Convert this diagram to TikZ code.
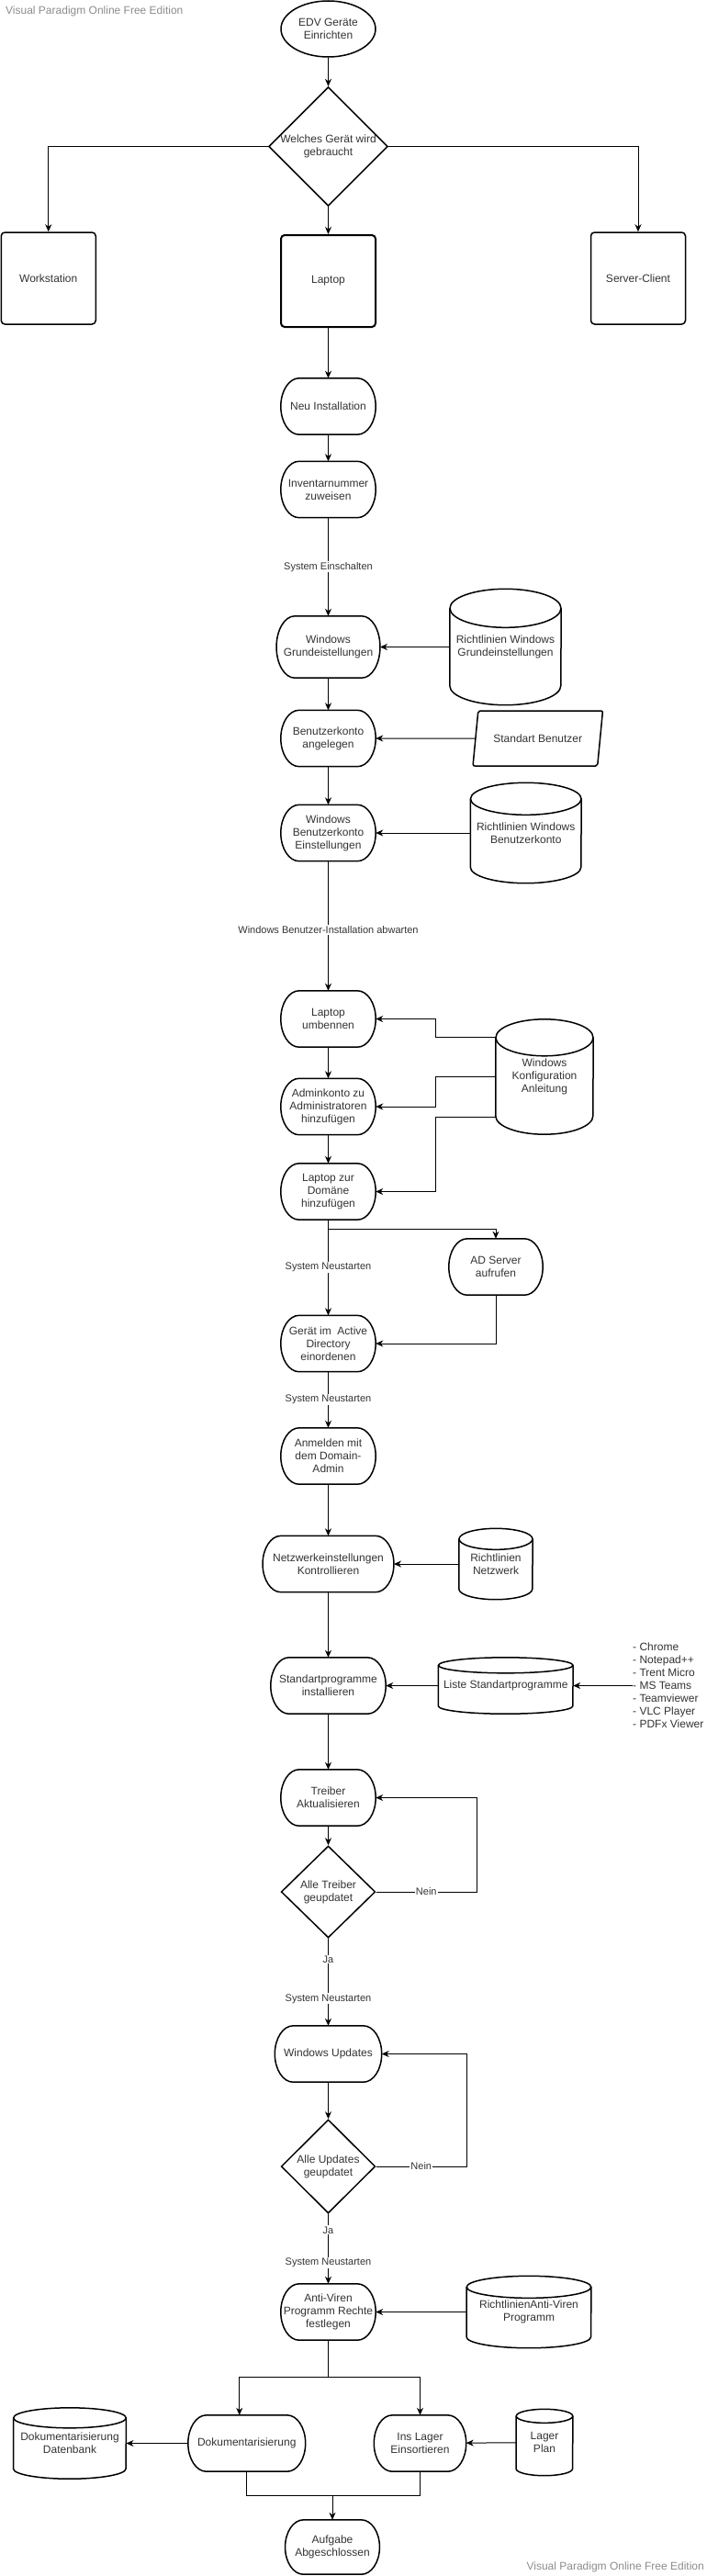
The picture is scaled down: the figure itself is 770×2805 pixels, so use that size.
\documentclass[tikz,border=0pt]{standalone}
\usepackage{fontspec}
\setmainfont{Liberation Sans}
\usetikzlibrary{shapes.geometric,arrows.meta,calc}

\definecolor{schrift}{HTML}{333333}
\definecolor{wasserzeichen}{HTML}{8C8C8C}

% 数据库圆柱: 名称, 位置, 宽, 高, 顶盖半高, 文字
\newcommand{\zylinder}[6]{%
  \node[dbtext, minimum width=#3pt, minimum height=#4pt] (#1) at #2 {#6};
  \draw[formlinie] ([yshift=-#5pt]#1.north west) -- ([yshift=#5pt]#1.south west)
    arc[start angle=180, end angle=360, x radius=#3pt/2, y radius=#5pt]
    -- ([yshift=-#5pt]#1.north east);
  \draw[formlinie] ([yshift=-#5pt]#1.north) ellipse[x radius=#3pt/2, y radius=#5pt];
}

\begin{document}
\begin{tikzpicture}[x=1pt, y=-1pt,
    font=\fontsize{12}{14}\selectfont, text=schrift,
    >={Stealth[length=8pt, width=7pt, inset=2.5pt]},
    formlinie/.style={draw=black, line width=1.5pt},
    anfang/.style={ellipse, formlinie, minimum width=103pt, minimum height=61pt, inner sep=0pt, align=center},
    ablauf/.style={rectangle, inner sep=0pt, align=center, minimum width=#1pt, minimum height=61pt,
      append after command={\pgfextra{\pgfinterruptpath
        \draw[formlinie] let \p1=(\tikzlastnode.north), \p2=(\tikzlastnode.south), \n1={(\y1-\y2)/2} in
          ([xshift=20pt]\tikzlastnode.north west) -- ([xshift=-20pt]\tikzlastnode.north east)
          arc[start angle=90, end angle=-90, x radius=20pt, y radius={\n1*1pt}]
          -- ([xshift=20pt]\tikzlastnode.south west)
          arc[start angle=270, end angle=90, x radius=20pt, y radius={\n1*1pt}] -- cycle;
        \endpgfinterruptpath}}},
    ablauf/.default=103,
    geraetbox/.style={rectangle, rounded corners=4pt, formlinie, minimum width=103pt, minimum height=100pt, align=center},
    frage/.style={diamond, formlinie, inner sep=0pt, align=center},
    eingabe/.style={trapezium, trapezium left angle=64, trapezium right angle=116, trapezium stretches=true,
      formlinie, rounded corners=2pt, minimum width=141.5pt, minimum height=60pt, inner sep=0pt},
    dbtext/.style={rectangle, inner sep=0pt, align=center},
    programme/.style={anchor=west, align=left, inner sep=0pt},
    pfeil/.style={->, line width=1pt},
    linie/.style={line width=1pt},
    kante/.style={fill=white, inner sep=1pt, font=\fontsize{11}{13}\selectfont},
    wz/.style={text=wasserzeichen, inner sep=0pt}]
    \useasboundingbox (0,0) rectangle (770,2805);

    % 水印
    \node[wz, anchor=west] (wzoben) at (6,12) {Visual Paradigm Online Free Edition};
    \node[wz, anchor=east] (wzunten) at (767,2795) {Visual Paradigm Online Free Edition};

    % 开始和选择设备
    \node[anfang] (edv) at (357.5,31.5) {EDV Geräte\\Einrichten};
    \node[frage, minimum width=128pt, minimum height=127pt] (welches) at (357.5,159.5) {Welches Gerät wird\\gebraucht};
    \node[geraetbox] (workstation) at (52.75,303) {Workstation};
    \node[geraetbox, line width=2pt] (laptop) at (357.5,306) {Laptop};
    \node[geraetbox] (server) at (695,303) {Server-Client};

    \draw[pfeil] (edv) -- (welches);
    \draw[pfeil] (welches.west) -| (workstation.north);
    \draw[pfeil] (welches.east) -| (server.north);
    \draw[pfeil] (welches) -- (laptop);

    % Windows 安装
    \node[ablauf] (neu) at (357.5,442.5) {Neu Installation};
    \node[ablauf] (inventar) at (357.5,533) {Inventarnummer\\zuweisen};
    \node[ablauf=112.5, minimum height=67pt] (grund) at (357.5,704.5) {Windows\\Grundeistellungen};
    \zylinder{rlgrund}{(550.5,704.5)}{121}{126}{21}{Richtlinien Windows\\Grundeinstellungen}
    \node[ablauf] (konto) at (357.5,804) {Benutzerkonto\\angelegen};
    \node[eingabe] (standart) at (585.75,804) {Standart Benutzer};
    \node[ablauf] (kontoeinst) at (357.5,907) {Windows\\Benutzerkonto\\Einstellungen};
    \zylinder{rlkonto}{(572.75,907)}{120.5}{109}{17.5}{Richtlinien Windows\\Benutzerkonto}

    \draw[pfeil] (laptop) -- (neu);
    \draw[pfeil] (neu) -- (inventar);
    \draw[pfeil] (inventar) -- node[kante]{System Einschalten} (grund);
    \draw[pfeil] (rlgrund) -- (grund);
    \draw[pfeil] (grund) -- (konto);
    \draw[pfeil] (standart) -- (konto);
    \draw[pfeil] (konto) -- (kontoeinst);
    \draw[pfeil] (rlkonto) -- (kontoeinst);

    % 域配置
    \node[ablauf] (umbennen) at (357.5,1109.5) {Laptop\\umbennen};
    \zylinder{konfig}{(593,1172.5)}{106}{125}{20}{Windows\\Konfiguration\\Anleitung}
    \node[ablauf] (admin) at (357.5,1205) {Adminkonto zu\\Administratoren\\hinzufügen};
    \node[ablauf] (domaene) at (357.5,1297.5) {Laptop zur\\Domäne\\hinzufügen};
    \node[ablauf=102] (ad) at (540,1379.5) {AD Server\\aufrufen};
    \node[ablauf] (einordnen) at (357.5,1463) {Gerät im\ \ Active\\Directory\\einordenen};
    \node[ablauf] (anmelden) at (357.5,1585.5) {Anmelden mit\\dem Domain-\\Admin};

    \draw[pfeil] (kontoeinst) -- node[kante, pos=0.53]{Windows Benutzer-Installation abwarten} (umbennen);
    \draw[pfeil] ([yshift=43.5pt]konfig.west) -| ([xshift=65.5pt]umbennen.east) -- (umbennen.east);
    \draw[pfeil] (konfig.west) -| ([xshift=65.5pt]admin.east) -- (admin.east);
    \draw[pfeil] ([yshift=-43.5pt]konfig.west) -| ([xshift=65.5pt]domaene.east) -- (domaene.east);
    \draw[pfeil] (umbennen) -- (admin);
    \draw[pfeil] (admin) -- (domaene);
    \draw[pfeil] (domaene.south) -- ++(0,10) -| (ad.north);
    \draw[pfeil] (domaene) -- node[kante]{System Neustarten} (einordnen);
    \draw[pfeil] (ad.south) |- (einordnen.east);
    \draw[pfeil] (einordnen) -- node[kante]{System Neustarten} (anmelden);

    % 网络和程序
    \node[ablauf=142.5] (netz) at (357.5,1703) {Netzwerkeinstellungen\\Kontrollieren};
    \zylinder{rlnetz}{(540,1703)}{80}{77}{11.5}{Richtlinien\\Netzwerk}
    \node[ablauf=125] (standardprog) at (357.5,1835.5) {Standartprogramme\\installieren};
    \zylinder{liste}{(550.75,1835.5)}{146.5}{61}{8.5}{Liste Standartprogramme}
    \node[programme] (programme) at (689,1835.5) {- Chrome\\- Notepad++\\- Trent Micro\\- MS Teams\\- Teamviewer\\- VLC Player\\- PDFx Viewer};

    \draw[pfeil] (anmelden) -- (netz);
    \draw[pfeil] (rlnetz) -- (netz);
    \draw[pfeil] (netz) -- (standardprog);
    \draw[pfeil] (liste) -- (standardprog);
    \draw[pfeil] (programme) -- (liste);

    % 驱动和更新循环
    \node[ablauf] (treiber) at (357.5,1957.5) {Treiber\\Aktualisieren};
    \node[frage, minimum width=102.5pt, minimum height=100pt] (treiberfrage) at (357.5,2060) {Alle Treiber\\geupdatet};
    \node[ablauf=116] (updates) at (357.5,2236.5) {Windows Updates};
    \node[frage, minimum width=102.5pt, minimum height=102pt] (updatefrage) at (357.5,2359) {Alle Updates\\geupdatet};

    \draw[pfeil] (standardprog) -- (treiber);
    \draw[pfeil] (treiber) -- (treiberfrage);
    \draw[pfeil] (treiberfrage.east) -- node[kante]{Nein} ++(109.5,0) |- (treiber.east);
    \draw[pfeil] (treiberfrage) -- node[kante, pos=0.24]{Ja} node[kante, pos=0.69]{System Neustarten} (updates);
    \draw[pfeil] (updates) -- (updatefrage);
    \draw[pfeil] (updatefrage.east) -- node[kante]{Nein} ++(98.5,0) |- (updates.east);

    % 杀毒, 文档, 仓库
    \node[ablauf] (antiviren) at (357.5,2517.5) {Anti-Viren\\Programm Rechte\\festlegen};
    \zylinder{rlviren}{(576,2517.5)}{135.5}{78}{12}{RichtlinienAnti-Viren\\Programm}
    \node[ablauf=127.5] (doku) at (268.75,2660.5) {Dokumentarisierung};
    \node[ablauf=100] (lager) at (457.5,2660.5) {Ins Lager\\Einsortieren};
    \zylinder{dokudb}{(76,2660.5)}{122.5}{77}{11}{Dokumentarisierung\\Datenbank}
    \zylinder{lagerplan}{(593,2659.5)}{61.5}{72}{7.5}{Lager\\Plan}
    \node[ablauf=102.5, minimum height=59pt] (aufgabe) at (362,2773.5) {Aufgabe\\Abgeschlossen};

    \draw[pfeil] (updatefrage) -- node[kante, pos=0.23]{Ja} node[kante, pos=0.70]{System Neustarten} (antiviren);
    \draw[pfeil] (rlviren) -- (antiviren);
    \coordinate (verteiler) at (357.5,2588);
    \draw[linie] (antiviren) -- (verteiler);
    \draw[pfeil] (verteiler) -| ([xshift=-8pt]doku.north);
    \draw[pfeil] (verteiler) -| (lager.north);
    \draw[pfeil] (doku) -- (dokudb);
    \draw[pfeil] (lagerplan) -- (lager);
    \draw[linie] (doku.south) -- ++(0,26) -| (lager.south);
    \coordinate (sammel) at (362,2717);
    \draw[pfeil] (sammel) -- (aufgabe);
\end{tikzpicture}
\end{document}
